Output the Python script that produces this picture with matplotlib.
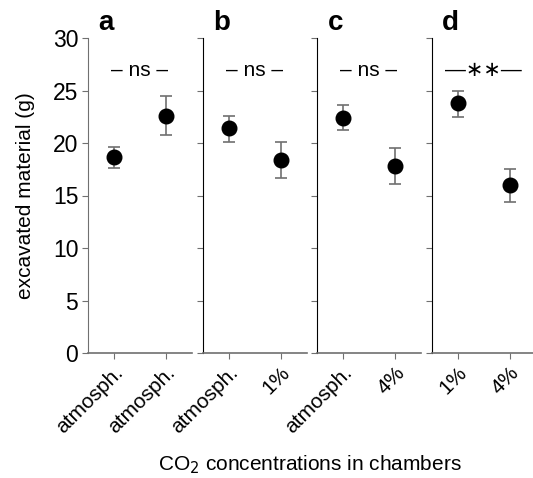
import matplotlib.pyplot as plt

plt.rcParams['font.family'] = ['Liberation Sans', 'DejaVu Sans']

panels = ['a', 'b', 'c', 'd']
labels = [['atmosph.', 'atmosph.'], ['atmosph.', '1%'], ['atmosph.', '4%'], ['1%', '4%']]
means = [[18.7, 22.6], [21.4, 18.4], [22.4, 17.8], [23.8, 16.0]]
upper = [[19.65, 24.5], [22.6, 20.1], [23.6, 19.5], [25.0, 17.5]]
lower = [[17.65, 20.8], [20.1, 16.7], [21.2, 16.1], [22.5, 14.4]]
sig = ['\u2013 ns \u2013', '\u2013 ns \u2013', '\u2013 ns \u2013', '\u2014\u2217\u2217\u2014']

W, H = 533, 478
fig = plt.figure(figsize=(W / 100, H / 100), dpi=100)
lefts = [88, 202.5, 317, 431.5]
gray = '#707070'

for i, p in enumerate(panels):
    ax = fig.add_axes([lefts[i] / W, 1 - 353 / H, 104 / W, 315 / H])
    x = [1, 2]
    m = means[i]
    yerr = [[m[k] - lower[i][k] for k in range(2)], [upper[i][k] - m[k] for k in range(2)]]
    ax.errorbar(x, m, yerr=yerr, fmt='o', color='black', ms=10.5, ecolor=gray,
                elinewidth=1.2, capsize=4, capthick=1.2)
    ax.set_xlim(0.5, 2.5)
    ax.set_ylim(0, 30)
    ax.set_xticks(x)
    ax.set_xticklabels(labels[i], rotation=45, ha='right', rotation_mode='anchor', fontsize=15)
    ax.set_yticks([0, 5, 10, 15, 20, 25, 30])
    if i == 0:
        ax.tick_params(axis='y', labelsize=16.5)
        ax.set_ylabel('excavated material (g)', fontsize=15, labelpad=13)
        ax.spines['left'].set_color(gray)
    else:
        ax.tick_params(axis='y', labelleft=False)
    for s in ['top', 'right']:
        ax.spines[s].set_visible(False)
    ax.spines['bottom'].set_color(gray)
    ax.spines['bottom'].set_linewidth(1.2)
    ax.tick_params(axis='both', length=4, color=gray, pad=3)
    ax.text(0.5, 26.9, sig[i], transform=ax.get_yaxis_transform(), ha='center', va='center',
            fontsize=15)
    ax.text(0.1, 1.005, p, transform=ax.transAxes, fontsize=20, fontweight='bold',
            ha='left', va='bottom')

fig.text(310 / W, 1 - 465 / H, 'CO$_2$ concentrations in chambers', ha='center', va='center',
         fontsize=15)
fig.savefig('out.png', dpi=100)
